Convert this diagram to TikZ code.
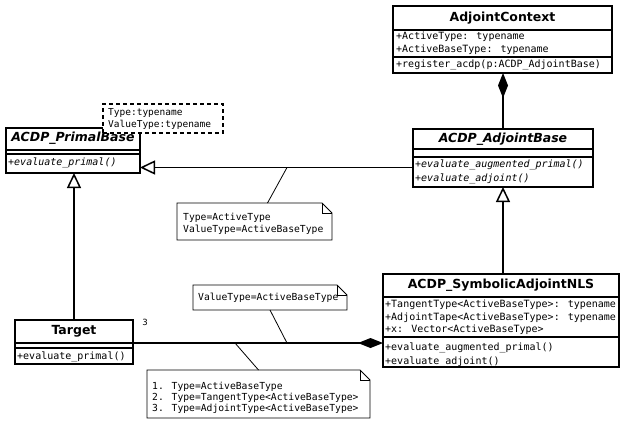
\documentclass[tikz,border=0pt]{standalone}
\usepackage{fontspec}
\setmainfont{DejaVu Sans}
\newfontfamily\monof{DejaVu Sans Mono}
\usetikzlibrary{arrows.meta,calc}
\newcommand\notefold[1]{%
  \draw[noteln, fill=white] (#1.south west) -- (#1.north west) -- ([xshift=-10pt]#1.north east) -- ([yshift=-10pt]#1.north east) -- (#1.south east) -- cycle;
  \draw[noteln] ([xshift=-10pt]#1.north east) -- ([xshift=-10pt,yshift=-10pt]#1.north east) -- ([yshift=-10pt]#1.north east);}
\tikzset{
  compart/.style={draw, line width=1.5pt, inner sep=0pt, outer sep=0pt, anchor=north west, fill=white},
  mem/.style={font=\monof\fontsize{10}{12}\selectfont, anchor=west, inner sep=0pt},
  memi/.style={font=\monof\itshape\fontsize{10}{12}\selectfont, anchor=west, inner sep=0pt},
  ttl/.style={font=\bfseries\fontsize{12.5}{14}\selectfont, inner sep=0pt},
  ttli/.style={font=\bfseries\itshape\fontsize{12.5}{14}\selectfont, inner sep=0pt},
  notetxt/.style={font=\monof\fontsize{9.7}{11}\selectfont, anchor=west, inner sep=0pt},
  notebox/.style={draw=none, inner sep=0pt, outer sep=0pt, anchor=north west},
  link/.style={line width=1.5pt},
  gen/.style={link, -{Triangle[open, length=15pt, width=14pt, fill=white]}},
  compo/.style={link, -{Diamond[length=25pt, width=10pt]}},
  noteln/.style={line width=0.8pt},
}
\begin{document}
\begin{tikzpicture}[x=1pt,y=-1pt]
\useasboundingbox[fill=white] (0,0) rectangle (620,420);

% AdjointContext
\node[compart, minimum width=219pt, minimum height=24pt] (ac) at (393,6) {};
\node[compart, minimum width=219pt, minimum height=27pt] (ac-a) at (393,30) {};
\node[compart, minimum width=219pt, minimum height=16pt] (ac-m) at (393,57) {};
\node[ttl] (ac-t) at (ac) {AdjointContext};
\node[mem] (ac-a1) at (396,36.5) {+ActiveType: typename};
\node[mem] (ac-a2) at (396,50) {+ActiveBaseType: typename};
\node[mem] (ac-m1) at (396,65) {+register\_acdp(p:ACDP\_AdjointBase)};

% ACDP_AdjointBase
\node[compart, minimum width=180pt, minimum height=20pt] (ab) at (413,129) {};
\node[compart, minimum width=180pt, minimum height=8pt] (ab-a) at (413,149) {};
\node[compart, minimum width=180pt, minimum height=30pt] (ab-m) at (413,157) {};
\node[ttli] (ab-t) at (ab) {ACDP\_AdjointBase};
\node[memi] (ab-m1) at (415,164.5) {+evaluate\_augmented\_primal()};
\node[memi] (ab-m2) at (415,178.5) {+evaluate\_adjoint()};

% ACDP_PrimalBase
\node[compart, minimum width=134pt, minimum height=22pt] (pb) at (6,128) {};
\node[compart, minimum width=134pt, minimum height=4pt] (pb-a) at (6,150) {};
\node[compart, minimum width=134pt, minimum height=19pt] (pb-m) at (6,154) {};
\node[ttli] (pb-t) at ([yshift=1pt]pb) {ACDP\_PrimalBase};
\node[memi] (pb-m1) at (8,163) {+evaluate\_primal()};

% template parameters
\node[draw, dash pattern=on 4pt off 3pt, line width=1.5pt, fill=white, minimum width=120pt, minimum height=29pt, anchor=north west, inner sep=0pt] (tp) at (102,103) {};
\node[font=\monof\fontsize{9.5}{11}\selectfont, anchor=west, inner sep=0pt] (tp1) at (108,113) {Type:typename};
\node[font=\monof\fontsize{9.5}{11}\selectfont, anchor=west, inner sep=0pt] (tp2) at (108,125) {ValueType:typename};

% ACDP_SymbolicAdjointNLS
\node[compart, minimum width=236pt, minimum height=23pt] (s) at (383,274) {};
\node[compart, minimum width=236pt, minimum height=40pt] (s-a) at (383,297) {};
\node[compart, minimum width=236pt, minimum height=30pt] (s-m) at (383,337) {};
\node[ttl] (s-t) at (s) {ACDP\_SymbolicAdjointNLS};
\node[mem] (s-a1) at (385,305) {+TangentType<ActiveBaseType>: typename};
\node[mem] (s-a2) at (385,317.5) {+AdjointTape<ActiveBaseType>: typename};
\node[mem] (s-a3) at (385,330) {+x: Vector<ActiveBaseType>};
\node[mem] (s-m1) at (385,348) {+evaluate\_augmented\_primal()};
\node[mem] (s-m2) at (385,361.5) {+evaluate\_adjoint()};

% Target
\node[compart, minimum width=118pt, minimum height=23pt] (t) at (15,320) {};
\node[compart, minimum width=118pt, minimum height=5pt] (t-a) at (15,343) {};
\node[compart, minimum width=118pt, minimum height=16pt] (t-m) at (15,348) {};
\node[ttl] (t-t) at (t) {Target};
\node[mem] (t-m1) at (17,357) {+evaluate\_primal()};
\node[font=\fontsize{8.5}{10}\selectfont, inner sep=0pt] (mult) at (145,322) {3};

% connectors
\draw[compo] (ab.north) -- (ab.north |- ac-m.south);
\coordinate (gp) at ([yshift=-4pt]pb-m.east);
\draw[gen] (gp -| ab-m.west) -- (gp);
\draw[gen] (t.north) -- (t.north |- pb-m.south);
\draw[gen] (ab-m.south |- s.north) -- (ab-m.south);
\draw[compo] (t.south east) -- (t.south east -| s-m.west);

% notes
\node[notebox, minimum width=155pt, minimum height=37pt] (n1) at (177,203) {};
\notefold{n1}
\node[notetxt] (n1a) at (183,218) {Type=ActiveType};
\node[notetxt] (n1b) at (183,229.5) {ValueType=ActiveBaseType};

\node[notebox, minimum width=154pt, minimum height=25pt] (n2) at (193,285) {};
\notefold{n2}
\node[notetxt] (n2a) at (198,298) {ValueType=ActiveBaseType};

\node[notebox, minimum width=223pt, minimum height=48pt] (n3) at (147,370) {};
\notefold{n3}
\node[notetxt] (n3a) at (152,387) {1. Type=ActiveBaseType};
\node[notetxt] (n3b) at (152,398) {2. Type=TangentType<ActiveBaseType>};
\node[notetxt] (n3c) at (152,409) {3. Type=AdjointType<ActiveBaseType>};

\coordinate (c1) at (287,167.5);
\coordinate (c2) at (287,343);
\coordinate (c3) at (235,343);
\draw[noteln] ([xshift=13pt]n1.north) -- (c1);
\draw[noteln] (n2.south) -- (c2);
\draw[noteln] (n3.north) -- (c3);
\end{tikzpicture}
\end{document}
